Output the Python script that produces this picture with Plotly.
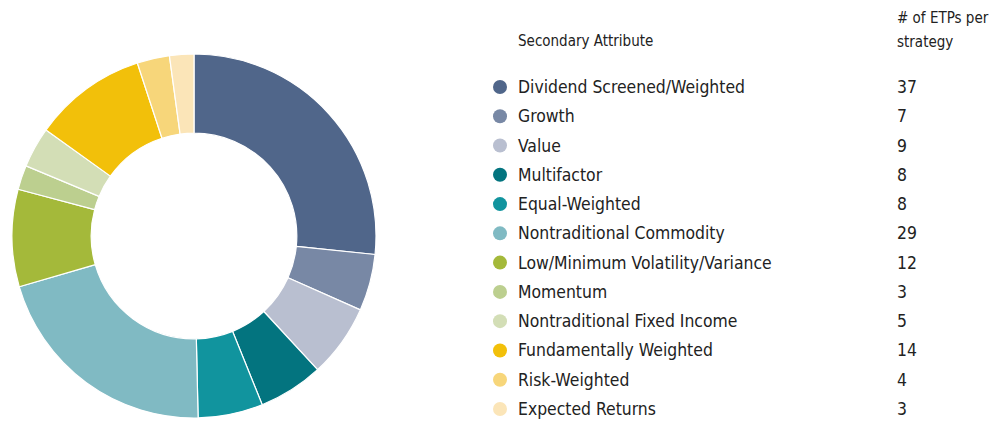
import plotly.graph_objects as go

categories = ["Dividend Screened/Weighted", "Growth", "Value", "Multifactor", "Equal-Weighted",
              "Nontraditional Commodity", "Low/Minimum Volatility/Variance", "Momentum",
              "Nontraditional Fixed Income", "Fundamentally Weighted", "Risk-Weighted", "Expected Returns"]
counts = [37, 7, 9, 8, 8, 29, 12, 3, 5, 14, 4, 3]
colors = ["#50668a", "#7888a5", "#b9bfd0", "#03747f", "#11949e", "#80bac3",
          "#a4b93a", "#bccf8f", "#d3deb6", "#f2c00a", "#f7d67a", "#fbe5b8"]
header_left = "Secondary Attribute"
header_right = ["# of ETPs per", "strategy"]

W, H = 1003, 421
FONT = "DejaVu Sans Condensed, Roboto, sans-serif"
TXT = "#222222"

fig = go.Figure()
fig.add_trace(go.Pie(
    labels=categories, values=counts, sort=False, direction="clockwise", rotation=0,
    hole=0.565, marker=dict(colors=colors, line=dict(color="white", width=1.2)),
    textinfo="none", hoverinfo="label+value", showlegend=False,
    domain=dict(x=[12 / W, 376 / W], y=[3 / H, 367 / H]),
))

rows = list(range(len(categories)))
fig.add_trace(go.Scatter(
    x=[500] * len(categories), y=rows, mode="markers",
    marker=dict(color=colors, size=14, line=dict(width=0)),
    hoverinfo="skip", showlegend=False,
))

annotations = []
for i, (c, n) in enumerate(zip(categories, counts)):
    annotations.append(dict(x=516, y=i, xref="x", yref="y", text=c, showarrow=False,
                            xanchor="left", yanchor="middle",
                            font=dict(family=FONT, size=17.4, color=TXT)))
    annotations.append(dict(x=895, y=i, xref="x", yref="y", text=str(n), showarrow=False,
                            xanchor="left", yanchor="middle",
                            font=dict(family=FONT, size=17.4, color=TXT)))
annotations.append(dict(x=516 / W, y=1 - 41 / H, xref="paper", yref="paper",
                        text=header_left, showarrow=False, xanchor="left",
                        yanchor="middle", font=dict(family=FONT, size=15, color=TXT)))
for j, t in enumerate(header_right):
    annotations.append(dict(x=895 / W, y=1 - (18 + 24 * j) / H, xref="paper", yref="paper",
                            text=t, showarrow=False, xanchor="left",
                            yanchor="middle", align="left",
                            font=dict(family=FONT, size=15, color=TXT)))

row0, step = 87, 29.27
fig.update_layout(
    width=W, height=H, margin=dict(l=0, r=0, t=0, b=0),
    paper_bgcolor="white", plot_bgcolor="rgba(0,0,0,0)",
    xaxis=dict(range=[0, W], visible=False, fixedrange=True),
    yaxis=dict(range=[(H - row0) / step, -row0 / step], visible=False, fixedrange=True),
    annotations=annotations,
)
fig.write_html("out.html", config={"displayModeBar": False},
               post_script="document.body.style.margin='0';document.body.style.overflow='hidden';")
